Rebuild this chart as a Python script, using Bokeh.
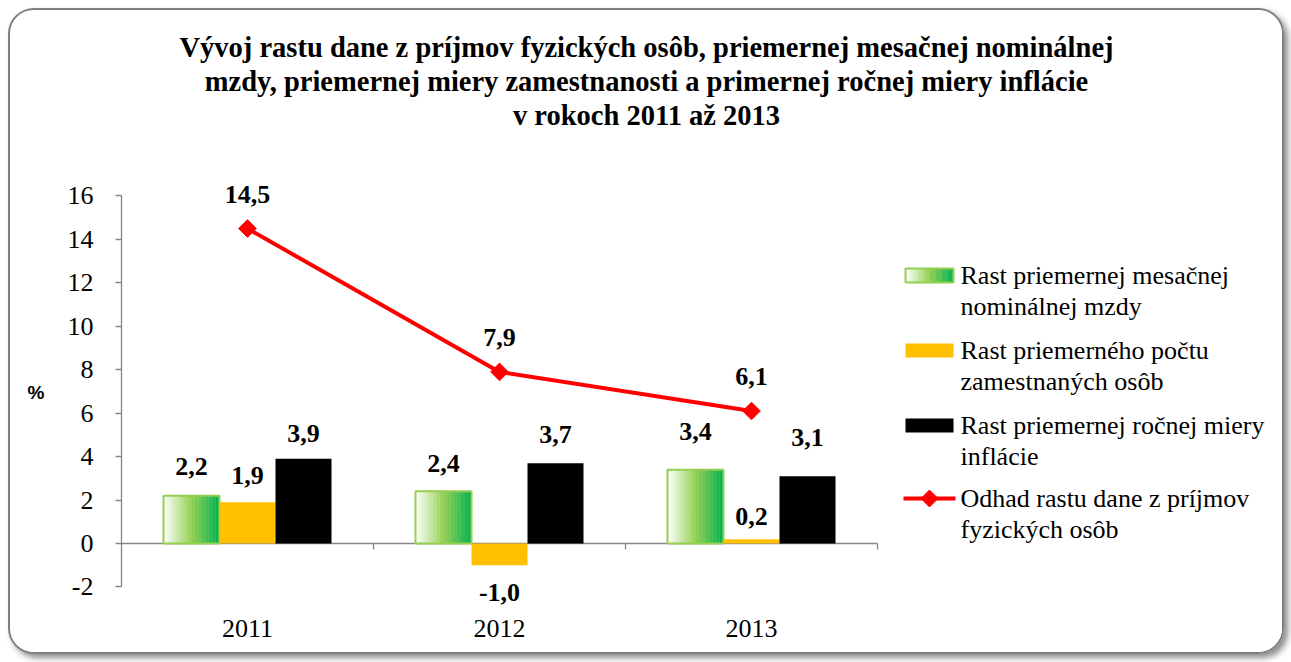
import numpy as np
from bokeh.plotting import figure
from bokeh.models import (Range1d, LinearAxis, FixedTicker, Label,
                          BoxAnnotation, PolyAnnotation, ColumnDataSource)
from bokeh.core.properties import value
from bokeh.embed import file_html
from bokeh.resources import INLINE

# ---------------- data ----------------
years = ["2011", "2012", "2013"]
wage_growth = [2.2, 2.4, 3.4]          # Rast priemernej mesačnej nominálnej mzdy
employment_growth = [1.9, -1.0, 0.2]   # Rast priemerného počtu zamestnaných osôb
inflation = [3.9, 3.7, 3.1]            # Rast priemernej ročnej miery inflácie
tax_growth = [14.5, 7.9, 6.1]          # Odhad rastu dane z príjmov fyzických osôb

y_ticks = [-2, 0, 2, 4, 6, 8, 10, 12, 14, 16]
y_tick_labels = ["-2", "0", "2", "4", "6", "8", "10", "12", "14", "16"]

title_lines = [
    "Vývoj rastu dane z príjmov fyzických osôb, priemernej mesačnej nominálnej",
    "mzdy, priemernej miery zamestnanosti a primernej ročnej miery inflácie",
    "v rokoch 2011 až 2013",
]
legend_labels = [
    ["Rast priemernej mesačnej", "nominálnej mzdy"],
    ["Rast priemerného počtu", "zamestnaných osôb"],
    ["Rast priemernej ročnej miery", "inflácie"],
    ["Odhad rastu dane z príjmov", "fyzických osôb"],
]
y_unit = "%"

# ---------------- styling ----------------
SERIF = "Liberation Serif"
SANS = "Liberation Sans"
GREEN_EDGE = "#92d050"
YELLOW = "#ffc000"
BLACK = "#000000"
RED = "#ff0000"
AXIS_GRAY = "#868686"
FS = "26px"
TITLE_FS = "28.5px"

# label offsets in px (placement as in the source chart)
wage_label_off = [-29, -28, -38]
employment_label_off = [-27, 27, -23]
inflation_label_off = [-25, -29, -39]
line_label_off = -34

W, H = 1276, 646
CANVAS_X, CANVAS_Y = 10, 10       # page position of canvas
LEFT_PAD, BOTTOM_PAD = 111, 44

# page px <-> data: x 0..3 -> 121..877, y 0 at page 543, 16 at page 195
X0, PXX = 121.0, 252.0
Y0, PXY = 543.0, 391.0 / 18.0
def dx(px):
    return (px - X0) / PXX
def dy(py):
    return (Y0 - py) / PXY

p = figure(width=W, height=H, title=None,
           x_range=Range1d(0, dx(CANVAS_X + W)),
           y_range=Range1d(dy(CANVAS_Y + H - BOTTOM_PAD), dy(CANVAS_Y)),
           output_backend="svg", toolbar_location=None,
           x_axis_type=None, y_axis_type=None,
           min_border_left=LEFT_PAD, min_border_right=0,
           min_border_top=0, min_border_bottom=BOTTOM_PAD)
p.outline_line_color = None
p.background_fill_color = "white"
p.border_fill_color = "white"
p.styles = {"margin": "8px 0 0 8px", "border": "2px solid #7f7f7f",
            "border-radius": "26px",
            "box-shadow": "4px 4px 6px rgba(0,0,0,0.45)", "overflow": "hidden"}

# ---------------- axes ----------------
yaxis = LinearAxis(ticker=FixedTicker(ticks=y_ticks), bounds=(y_ticks[0], y_ticks[-1]),
                   major_label_overrides={t: l for t, l in zip(y_ticks, y_tick_labels)})
yaxis.axis_line_color = AXIS_GRAY
yaxis.axis_line_width = 1.3
yaxis.major_tick_line_color = AXIS_GRAY
yaxis.major_tick_line_width = 1.3
yaxis.major_tick_out = 6
yaxis.major_tick_in = 0
yaxis.minor_tick_line_color = None
yaxis.major_label_text_font = SERIF
yaxis.major_label_text_font_size = FS
yaxis.major_label_text_color = "black"
yaxis.major_label_standoff = 22
p.add_layout(yaxis, "left")

# unit label "%" as an outer left axis, centred on the value axis
unit_pos = (y_ticks[0] + y_ticks[-1]) / 2 - 0.05
unit_axis = LinearAxis(ticker=FixedTicker(ticks=[unit_pos]),
                       major_label_overrides={unit_pos: y_unit})
unit_axis.axis_line_color = None
unit_axis.major_tick_line_color = None
unit_axis.major_tick_out = 0
unit_axis.minor_tick_line_color = None
unit_axis.major_label_text_font = SANS
unit_axis.major_label_text_font_style = "bold"
unit_axis.major_label_text_font_size = "19px"
unit_axis.major_label_text_color = "black"
unit_axis.major_label_standoff = 20
p.add_layout(unit_axis, "left")

centers = np.arange(len(years)) + 0.5
xaxis = LinearAxis(ticker=FixedTicker(ticks=list(centers)),
                   major_label_overrides={float(c): y for c, y in zip(centers, years)})
xaxis.axis_line_color = None
xaxis.major_tick_line_color = None
xaxis.major_tick_out = 0
xaxis.minor_tick_line_color = None
xaxis.major_label_text_font = SERIF
xaxis.major_label_text_font_size = FS
xaxis.major_label_text_color = "black"
xaxis.major_label_standoff = 7
p.add_layout(xaxis, "below")

# zero line with category separator ticks
n = len(years)
p.segment(x0=0, x1=n, y0=0, y1=0, line_color=AXIS_GRAY, line_width=1.3)
bounds = np.arange(1, n + 1)
p.segment(x0=bounds, x1=bounds, y0=0, y1=-6 / PXY, line_color=AXIS_GRAY, line_width=1.3)

# ---------------- bars ----------------
bw = 1 / 4.5            # gap width 150 %
offsets = [-bw, 0.0, bw]

def grad(t):
    stops = [(0.0, (255, 255, 255)), (0.5, (146, 208, 80)), (1.0, (0, 176, 80))]
    for (t0, c0), (t1, c1) in zip(stops[:-1], stops[1:]):
        if t <= t1:
            f = (t - t0) / (t1 - t0)
            c = [int(round(a + (b - a) * f)) for a, b in zip(c0, c1)]
            return "#%02x%02x%02x" % tuple(c)
    return "#00b050"

N = 40
lefts, rights, tops, cols = [], [], [], []
for ci, c in enumerate(centers):
    x_start = c + offsets[0] - bw / 2
    for k in range(N):
        lefts.append(x_start + k * bw / N)
        rights.append(x_start + (k + 1) * bw / N + (0.0015 if k < N - 1 else 0))
        tops.append(wage_growth[ci])
        cols.append(grad((k + 0.5) / N))
p.quad(left=lefts, right=rights, top=tops, bottom=0, fill_color=cols, line_color=None)
p.vbar(x=centers + offsets[0], width=bw, top=wage_growth, bottom=0,
       fill_color=None, line_color=GREEN_EDGE, line_width=2)
p.vbar(x=centers + offsets[1], width=bw, top=employment_growth, bottom=0,
       fill_color=YELLOW, line_color=None)
p.vbar(x=centers + offsets[2], width=bw, top=inflation, bottom=0,
       fill_color=BLACK, line_color=None)

# ---------------- line ----------------
p.line(x=centers, y=tax_growth, line_color=RED, line_width=4)
p.scatter(x=centers, y=tax_growth, marker="square", size=12.5, angle=np.pi / 4,
          fill_color=RED, line_color=RED)

# ---------------- data labels ----------------
def fmt(v):
    return f"{v:.1f}".replace(".", ",")

def value_labels(xs, vals, offs):
    src = ColumnDataSource(dict(x=list(xs), y=list(vals), t=[fmt(v) for v in vals],
                                off=list(offs)))
    p.text(x="x", y="y", text="t", y_offset="off", source=src, text_align="center",
           text_baseline="middle", text_font=value(SERIF), text_font_style="bold",
           text_font_size=FS, text_color="black")

value_labels(centers + offsets[0], wage_growth, wage_label_off)
value_labels(centers + offsets[1], employment_growth, employment_label_off)
value_labels(centers + offsets[2], inflation, inflation_label_off)
value_labels(centers, tax_growth, [line_label_off] * n)

# ---------------- title ----------------
for i, line in enumerate(title_lines):
    p.add_layout(Label(x=dx(646), y=dy(47 + 34 * i), text=line, text_align="center",
                       text_baseline="middle", text_font=SERIF, text_font_style="bold",
                       text_font_size=TITLE_FS, text_color="black"))

# ---------------- legend ----------------
item_y = [275, 350, 425, 498]
box_l, box_r = 905, 953
text_x = 960
for k in range(N):
    l = box_l + k * (box_r - box_l) / N
    r = box_l + (k + 1) * (box_r - box_l) / N + 0.4
    p.add_layout(BoxAnnotation(left=dx(l), right=dx(r), top=dy(item_y[0] - 7),
                               bottom=dy(item_y[0] + 7), fill_color=grad((k + 0.5) / N),
                               fill_alpha=1, line_color=None))
p.add_layout(BoxAnnotation(left=dx(box_l), right=dx(box_r), top=dy(item_y[0] - 7),
                           bottom=dy(item_y[0] + 7), fill_alpha=0, line_color=GREEN_EDGE,
                           line_width=2, line_alpha=1))
for yy, col in [(item_y[1], YELLOW), (item_y[2], BLACK)]:
    p.add_layout(BoxAnnotation(left=dx(box_l), right=dx(box_r), top=dy(yy - 7),
                               bottom=dy(yy + 7), fill_color=col, fill_alpha=1,
                               line_color=None))
p.add_layout(BoxAnnotation(left=dx(903), right=dx(955), top=dy(item_y[3] - 2),
                           bottom=dy(item_y[3] + 2), fill_color=RED, fill_alpha=1,
                           line_color=None))
cx, cy, r = 929, item_y[3], 8.5
p.add_layout(PolyAnnotation(xs=[dx(cx - r), dx(cx), dx(cx + r), dx(cx)],
                            ys=[dy(cy), dy(cy - r), dy(cy), dy(cy + r)],
                            fill_color=RED, fill_alpha=1, line_color=RED, line_alpha=1))
for yy, (l1, l2) in zip(item_y, legend_labels):
    for j, txt in enumerate([l1, l2]):
        p.add_layout(Label(x=dx(text_x), y=dy(yy + 31 * j), text=txt, text_align="left",
                           text_baseline="middle", text_font=SERIF,
                           text_font_size=FS, text_color="black"))

open("out.html", "w").write(file_html(p, INLINE))
